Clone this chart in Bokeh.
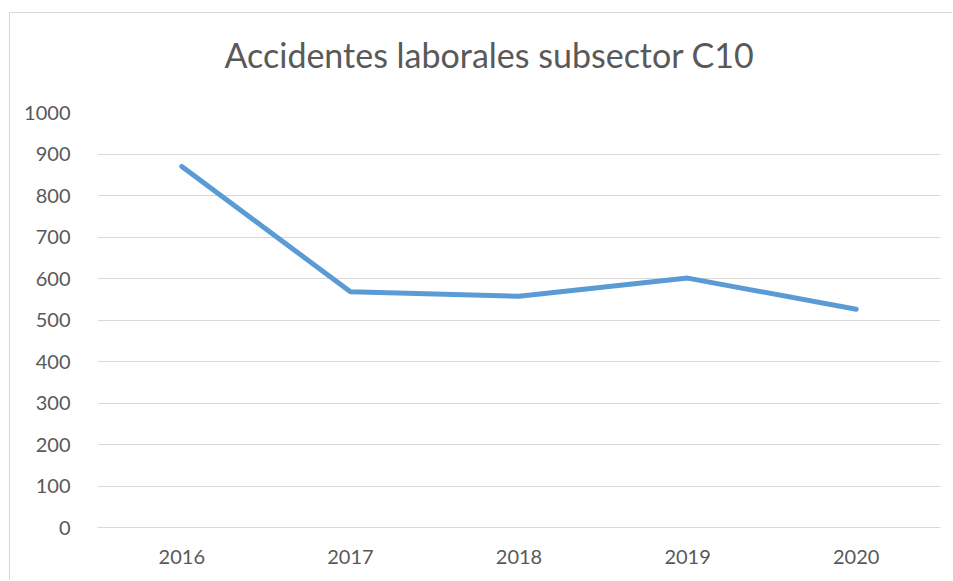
from bokeh.plotting import figure
from bokeh.models import SingleIntervalTicker, FactorRange, Title
from bokeh.embed import file_html
from bokeh.resources import INLINE

years = ["2016", "2017", "2018", "2019", "2020"]
accidents = [870, 568, 557, 601, 526]
title_text = "Accidentes laborales subsector C10"

FONT = "Lato"
TEXT = "#595959"
GRID = "#d9d9d9"

p = figure(width=943, height=568, x_range=FactorRange(*years, range_padding=0),
           y_range=(0, 1000), output_backend="svg", toolbar_location=None,
           min_border_left=87, min_border_right=13, min_border_bottom=54, min_border_top=99)
p.styles = {"border-left": "1px solid #d9d9d9", "border-top": "1px solid #d9d9d9",
            "margin-left": "9px", "margin-top": "12px"}
p.title.text = ""
p.title.standoff = 0

# spacer between frame and title (nearest to the frame)
spacer = Title(text=" ", text_font_size="1px", standoff=17)
p.add_layout(spacer, "above")

chart_title = Title(text=title_text, align="left", offset=127, text_font=FONT,
                    text_font_size="34px", text_font_style="normal",
                    text_color=TEXT, standoff=36)
p.add_layout(chart_title, "above")

p.line(years, accidents, line_color="#5b9bd5", line_width=5,
       line_cap="round", line_join="round")

p.outline_line_color = None
p.background_fill_color = "white"
p.border_fill_color = "white"

p.yaxis.ticker = SingleIntervalTicker(interval=100)
p.yaxis.axis_line_color = None
p.yaxis.major_tick_line_color = None
p.yaxis.minor_tick_line_color = None
p.yaxis.major_tick_out = 0
p.yaxis.major_tick_in = 0
p.yaxis.major_label_standoff = 23
p.yaxis.major_label_text_font = FONT
p.yaxis.major_label_text_font_size = "20px"
p.yaxis.major_label_text_color = TEXT

p.xaxis.axis_line_color = GRID
p.xaxis.major_tick_line_color = None
p.xaxis.minor_tick_line_color = None
p.xaxis.major_tick_out = 0
p.xaxis.major_tick_in = 0
p.xaxis.major_label_standoff = 22
p.xaxis.major_label_text_font = FONT
p.xaxis.major_label_text_font_size = "20px"
p.xaxis.major_label_text_color = TEXT

p.xgrid.grid_line_color = None
p.ygrid.grid_line_color = GRID
p.ygrid.grid_line_width = 1

open("out.html", "w").write(file_html(p, INLINE))
